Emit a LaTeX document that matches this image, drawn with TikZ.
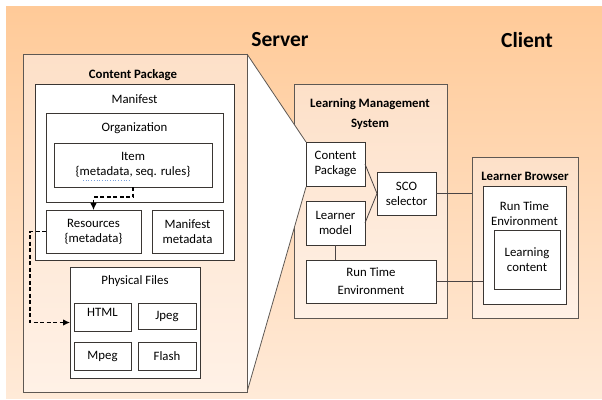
\documentclass[tikz,border=0pt]{standalone}
\usepackage{fontspec}
\setmainfont{Carlito}
\usetikzlibrary{arrows.meta}
\definecolor{bgtop}{HTML}{FFCA98}
\definecolor{bgmid}{HTML}{FFD6B0}
\definecolor{bgbot}{HTML}{FFEAD8}
\definecolor{pktop}{HTML}{FDE0C8}
\definecolor{pkbot}{HTML}{FFF1E6}
\definecolor{boxline}{HTML}{3A3633}
\definecolor{outline}{HTML}{5E5853}
\definecolor{conline}{HTML}{4A4444}
\definecolor{squiggle}{HTML}{7A9FD8}
\begin{document}
\begin{tikzpicture}[x=1pt,y=-1pt,
  font=\fontsize{12.8}{15}\selectfont,
  box/.style={draw=boxline, line width=0.8pt, fill=white, inner sep=0pt, outer sep=0pt, anchor=north west, align=center},
  outerbox/.style={draw=outline, line width=0.9pt, top color=pktop, bottom color=pkbot, inner sep=0pt, outer sep=0pt, anchor=north west},
  title/.style={font=\fontsize{12.8}{15}\selectfont\bfseries, align=center, inner sep=0pt},
  lbl/.style={align=center, inner sep=0pt},
  big/.style={font=\fontsize{21.5}{24}\selectfont\bfseries, inner sep=0pt},
  conn/.style={draw=conline, line width=0.8pt},
  dasharrow/.style={draw=black, line width=1.1pt, dash pattern=on 4pt off 2.5pt, -{Latex[length=7pt,width=6.5pt]}}
]
\useasboundingbox (0,0) rectangle (602,399);
% background
\fill[top color=bgtop, middle color=bgmid, bottom color=bgbot] (6,6) rectangle (602,398);

\node[big] (server) at (280,40) {Server};
\node[big] (client) at (527,40) {Client};

% LMS
\node[outerbox, minimum width=153pt, minimum height=234pt] (lms) at (294,84) {};
\node[title] (lmst) at (370,114) {Learning Management\\[5pt]System};

% learner browser
\node[outerbox, minimum width=106pt, minimum height=161pt] (lb) at (472,157) {};
\node[title] (lbt) at (525,176) {Learner Browser};
\node[box, minimum width=83pt, minimum height=118pt] (lrte) at (483,186) {};
\node[lbl] (lrtet) at (524.5,214) {Run Time\\Environment};
\node[box, minimum width=66pt, minimum height=59pt] (lc) at (494,230) {Learning\\content};

% zoom wedge
\coordinate (w1) at (247,54);
\coordinate (w2) at (306,142);
\coordinate (w3) at (306,187);
\coordinate (w4) at (247,392);
\fill[white] (w1) -- (w2) -- (w3) -- (w4) -- cycle;
\draw[draw=outline, line width=0.8pt] (w1) -- (w2) (w3) -- (w4);

% content package
\node[outerbox, minimum width=224pt, minimum height=338pt] (cp) at (23,54) {};
\node[title] (cpt) at (133,75) {Content Package};
\node[box, minimum width=199pt, minimum height=176pt] (man) at (35,84) {};
\node[lbl] (mant) at (134.5,99) {Manifest};
\node[box, minimum width=177pt, minimum height=89pt] (org) at (46,113) {};
\node[lbl] (orgt) at (134.5,128) {Organization};
\node[box, minimum width=158pt, minimum height=44pt] (item) at (54,143) {Item\\\{metadata, seq. rules\}};
\draw[squiggle, line width=0.7pt, dotted] (83,180) -- (129,180);
\node[box, minimum width=95pt, minimum height=43pt] (res) at (46,210) {Resources\\\{metadata\}};
\node[box, minimum width=71pt, minimum height=43pt] (mm) at (152,210) {Manifest\\metadata};
\node[box, minimum width=130pt, minimum height=111pt] (pf) at (70,267) {};
\node[lbl] (pft) at (135,281) {Physical Files};
\node[box, minimum width=57pt, minimum height=28pt] (html) at (74,303) {};
\node[lbl] (htmlt) at (102.5,312) {HTML};
\node[box, minimum width=58pt, minimum height=26pt] (jpeg) at (138,303) {Jpeg};
\node[box, minimum width=57pt, minimum height=28pt] (mpeg) at (74,342) {Mpeg};
\node[box, minimum width=58pt, minimum height=28pt] (flash) at (138,342) {Flash};

\draw[dasharrow] (item.south) -- ++(0,10) -| (res.north);
\draw[dasharrow] (res.west) -- ++(-16,0) |- (pf.west);

% LMS inner
\node[box, minimum width=59pt, minimum height=44pt] (lcp) at (306,142) {Content\\Package};
\node[box, minimum width=59pt, minimum height=44pt] (lm) at (306,201) {Learner\\model};
\node[box, minimum width=59pt, minimum height=43pt] (sco) at (377,172) {SCO\\selector};
\node[box, minimum width=130pt, minimum height=43pt] (rte) at (306,260) {Run Time\\[3pt]Environment};

\draw[conn] (lcp.east) -- (sco.west);
\draw[conn] (lm.east) -- (sco.west);
\draw[conn] (lm.south) -- (lm.south |- rte.north);
\draw[conn] (sco.east) -- (lb.west |- sco.east);
\draw[conn] (rte.east) -- (lrte.west |- rte.east);
\end{tikzpicture}
\end{document}
